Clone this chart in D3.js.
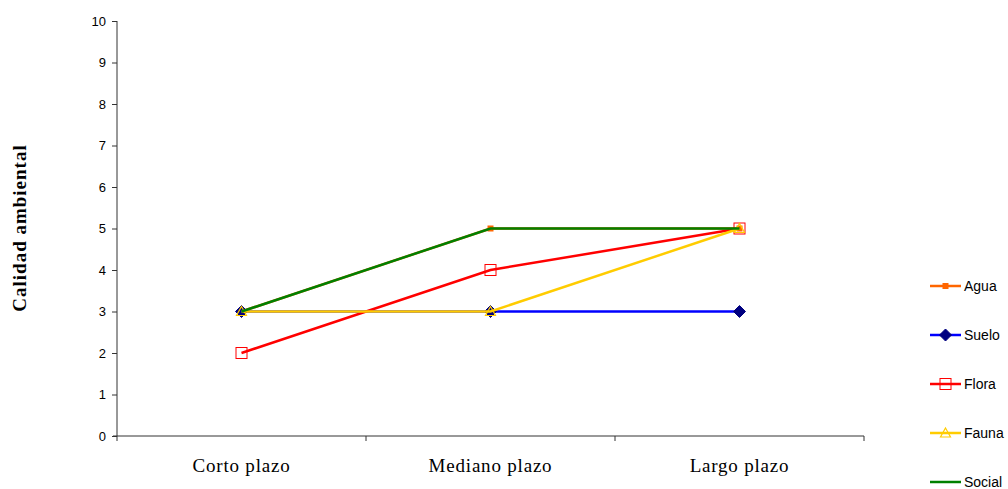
<!DOCTYPE html>
<html>
<head>
<meta charset="utf-8">
<script src="https://cdn.jsdelivr.net/npm/d3@7"></script>
<style>
  body { margin: 0; background: #fff; }
  svg { display: block; }
</style>
</head>
<body>
<div id="chart"></div>
<script>
  // data
  var categories = ["Corto plazo", "Mediano plazo", "Largo plazo"];
  var seriesNames = ["Agua", "Suelo", "Flora", "Fauna", "Social"];
  var agua = [3, 5, 5];
  var suelo = [3, 3, 3];
  var flora = [2, 4, 5];
  var fauna = [3, 3, 5];
  var social = [3, 5, 5];
  var yTicks = [0, 1, 2, 3, 4, 5, 6, 7, 8, 9, 10];

  var series = [
    {name: "Agua", values: agua, color: "#ff6600", marker: "square"},
    {name: "Suelo", values: suelo, color: "#0000ff", marker: "diamond"},
    {name: "Flora", values: flora, color: "#ff0000", marker: "hollowSquare"},
    {name: "Fauna", values: fauna, color: "#ffcc00", marker: "triangle"},
    {name: "Social", values: social, color: "#008000", marker: "none"}
  ];

  var margin = {top: 21, left: 117},
    width = 747,
    height = 415;

  var svg = d3.select("#chart").append("svg")
    .attr("width", 1008)
    .attr("height", 489);

  var g = svg.append("g")
    .attr("transform", "translate(" + margin.left + "," + margin.top + ")");

  var x = d3.scaleBand()
    .domain(categories)
    .range([0, width]);

  var y = d3.scaleLinear()
    .domain([0, 10])
    .range([height, 0]);

  // y axis
  var yAxis = d3.axisLeft(y)
    .tickValues(yTicks)
    .tickSize(5)
    .tickPadding(6);

  var yAxisG = g.append("g").call(yAxis);
  yAxisG.select(".domain").attr("stroke", "#333").attr("d", "M0,0V" + height);
  yAxisG.selectAll(".tick line").attr("stroke", "#333").attr("x1", 0).attr("x2", -5);
  yAxisG.selectAll(".tick text")
    .attr("font-family", "Arial, 'Liberation Sans', sans-serif")
    .attr("font-size", "13px")
    .attr("fill", "#000");

  // x axis
  var xAxisG = g.append("g").attr("transform", "translate(0," + height + ")");
  xAxisG.append("line")
    .attr("x1", -4).attr("x2", width)
    .attr("stroke", "#333");
  var xBounds = [0].concat(categories.map(c => x(c) + x.bandwidth()));
  xAxisG.selectAll("line.xt")
    .data(xBounds)
    .enter().append("line")
    .attr("class", "xt")
    .attr("x1", d => d).attr("x2", d => d)
    .attr("y1", 0).attr("y2", 5)
    .attr("stroke", "#333");
  xAxisG.selectAll("text")
    .data(categories)
    .enter().append("text")
    .attr("x", d => x(d) + x.bandwidth() / 2)
    .attr("y", 36)
    .attr("text-anchor", "middle")
    .attr("font-family", "'Liberation Serif', 'Times New Roman', serif")
    .attr("font-size", "19px")
    .attr("letter-spacing", "0.8px")
    .text(d => d);

  // y axis title
  svg.append("text")
    .attr("transform", "translate(26,228) rotate(-90)")
    .attr("text-anchor", "middle")
    .attr("font-family", "'Liberation Serif', 'Times New Roman', serif")
    .attr("font-weight", "bold")
    .attr("font-size", "19px")
    .attr("letter-spacing", "1px")
    .text("Calidad ambiental");

  var line = d3.line()
    .x((d, i) => x(categories[i]) + x.bandwidth() / 2)
    .y(d => y(d));

  function drawMarker(sel, s, cx, cy) {
    if (s.marker == "square") {
      sel.append("rect").attr("x", cx - 3).attr("y", cy - 3).attr("width", 6).attr("height", 6)
        .attr("fill", s.color);
    } else if (s.marker == "diamond") {
      sel.append("path").attr("d", "M" + cx + "," + (cy - 6) + "L" + (cx + 6) + "," + cy + "L" + cx + "," + (cy + 6) + "L" + (cx - 6) + "," + cy + "Z")
        .attr("fill", "#000080").attr("stroke", "#000080");
    } else if (s.marker == "hollowSquare") {
      sel.append("rect").attr("x", cx - 5.5).attr("y", cy - 5.5).attr("width", 11).attr("height", 11)
        .attr("fill", "none").attr("stroke", s.color).attr("stroke-width", 1);
    } else if (s.marker == "triangle") {
      sel.append("path").attr("d", "M" + cx + "," + (cy - 5) + "L" + (cx + 5) + "," + (cy + 4) + "L" + (cx - 5) + "," + (cy + 4) + "Z")
        .attr("fill", "none").attr("stroke", s.color).attr("stroke-width", 1.2);
    }
  }

  series.forEach(s => {
    var sg = g.append("g");
    sg.append("path")
      .datum(s.values)
      .attr("d", line)
      .attr("fill", "none")
      .attr("stroke", s.color)
      .attr("stroke-width", 2.5);
    s.values.forEach((v, i) => {
      drawMarker(sg, s, x(categories[i]) + x.bandwidth() / 2, y(v));
    });
  });

  // legend
  var legend = svg.append("g").attr("transform", "translate(930,286)");
  series.forEach((s, i) => {
    var lg = legend.append("g").attr("transform", "translate(0," + (i * 49) + ")");
    lg.append("line")
      .attr("x1", 0).attr("x2", 31)
      .attr("stroke", s.color).attr("stroke-width", 2.5);
    drawMarker(lg, s, 15.5, 0);
    lg.append("text")
      .attr("x", 34).attr("y", 4.5)
      .attr("font-family", "Arial, 'Liberation Sans', sans-serif")
      .attr("font-size", "14px")
      .text(s.name);
  });
</script>
</body>
</html>
